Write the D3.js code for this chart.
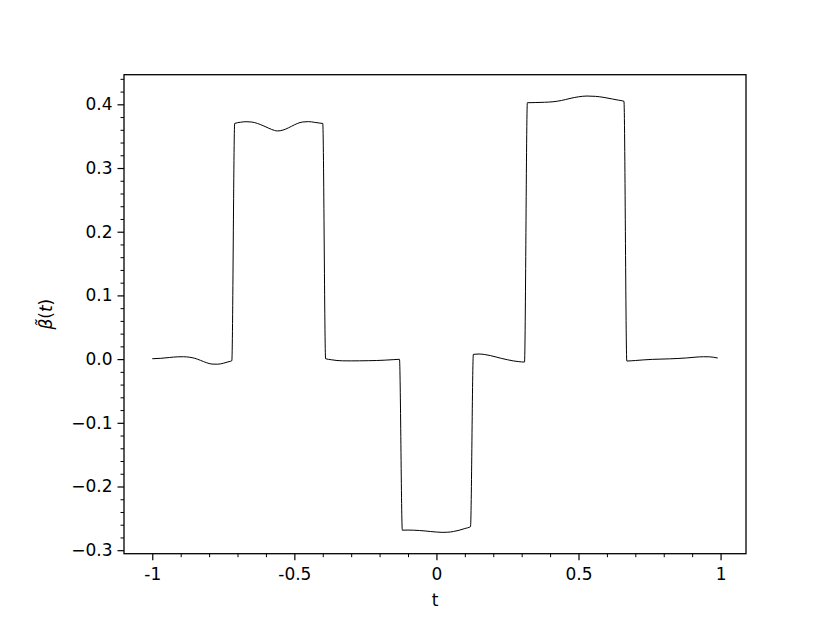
<!DOCTYPE html>
<html>
<head>
<meta charset="utf-8">
<script src="https://cdn.jsdelivr.net/npm/d3@7"></script>
<style>
  body { margin: 0; background: #fff; }
  svg { display: block; }
  text { font-family: "DejaVu Sans", sans-serif; }
</style>
</head>
<body>
<script>
const tValues = [
  -1.00, -0.97, -0.94, -0.91, -0.89, -0.87, -0.85, -0.83, -0.81, -0.79, -0.77, -0.75, -0.73, -0.72,
  -0.71, -0.69, -0.67, -0.65, -0.63, -0.61, -0.59, -0.57, -0.56, -0.55, -0.53, -0.51, -0.49, -0.47, -0.45, -0.43, -0.41, -0.40,
  -0.39, -0.37, -0.35, -0.33, -0.30, -0.27, -0.24, -0.21, -0.18, -0.15, -0.13,
  -0.12, -0.10, -0.08, -0.06, -0.04, -0.02, 0.00, 0.02, 0.04, 0.06, 0.08, 0.10, 0.12,
  0.13, 0.15, 0.17, 0.19, 0.21, 0.23, 0.25, 0.27, 0.29, 0.31,
  0.32, 0.35, 0.38, 0.41, 0.44, 0.47, 0.50, 0.53, 0.56, 0.59, 0.62, 0.64, 0.66,
  0.67, 0.70, 0.73, 0.76, 0.79, 0.82, 0.85, 0.88, 0.91, 0.94, 0.96, 0.99
];
const betaValues = [
  0.0006, 0.0012, 0.0025, 0.0036, 0.0037, 0.0030, 0.0012, -0.0020, -0.0055, -0.0078, -0.0080, -0.0065, -0.0040, -0.0025,
  0.3700, 0.3718, 0.3727, 0.3722, 0.3700, 0.3665, 0.3625, 0.3590, 0.3582, 0.3585, 0.3612, 0.3655, 0.3698, 0.3723, 0.3728, 0.3718, 0.3705, 0.3700,
  0.0006, -0.0010, -0.0022, -0.0027, -0.0028, -0.0027, -0.0025, -0.0022, -0.0016, -0.0008, -0.0003,
  -0.2686, -0.2684, -0.2686, -0.2691, -0.2698, -0.2707, -0.2715, -0.2720, -0.2718, -0.2706, -0.2687, -0.2660, -0.2630,
  0.0075, 0.0080, 0.0072, 0.0055, 0.0033, 0.0010, -0.0010, -0.0028, -0.0040, -0.0046,
  0.4025, 0.4028, 0.4032, 0.4040, 0.4060, 0.4092, 0.4118, 0.4130, 0.4125, 0.4108, 0.4083, 0.4066, 0.4047,
  -0.0030, -0.0022, -0.0012, -0.0004, 0.0000, 0.0004, 0.0010, 0.0018, 0.0030, 0.0037, 0.0036, 0.0017
];
const xTicks = [-1, -0.5, 0, 0.5, 1];
const xTickLabels = ["-1", "-0.5", "0", "0.5", "1"];
const yTicks = [-0.3, -0.2, -0.1, 0.0, 0.1, 0.2, 0.3, 0.4];
const xLabel = "t";

(function () {
const W = 830, H = 623;
const mLeft = 124, mRight = 746, mTop = 74.7, mBottom = 553.7;

const svg = d3.select("body").append("svg").attr("width", W).attr("height", H);

const x = d3.scaleLinear().domain([-1.0995, 1.0895]).range([mLeft, mRight]);
const y = d3.scaleLinear().domain([-0.3055, 0.4465]).range([mBottom, mTop]);

const data = tValues.map((t, i) => [t, betaValues[i]]);

svg.append("path")
  .datum(data)
  .attr("fill", "none")
  .attr("stroke", "#000")
  .attr("stroke-width", 1)
  .attr("d", d3.line().x(d => x(d[0])).y(d => y(d[1])).curve(d3.curveMonotoneX));

const xMinor = d3.range(-10, 11).map(k => k / 10).filter(v => !xTicks.some(t => Math.abs(t - v) < 1e-9));
const yMinor = d3.range(-15, 23).map(k => k / 50).filter(v => !yTicks.some(t => Math.abs(t - v) < 1e-9));

const fontSize = 17;

const xAxis = d3.axisBottom(x).tickValues(xTicks).tickSize(6.5).tickPadding(8)
  .tickFormat((d, i) => xTickLabels[i]);
const gx = svg.append("g").attr("transform", `translate(0,${mBottom})`).call(xAxis);
gx.select(".domain").remove();
gx.selectAll(".tick line").attr("stroke", "#000").attr("stroke-width", 1.2);
gx.selectAll(".tick text").attr("font-size", fontSize).attr("font-family", "DejaVu Sans").attr("fill", "#000");

const gxm = svg.append("g").attr("transform", `translate(0,${mBottom})`)
  .call(d3.axisBottom(x).tickValues(xMinor).tickSize(3.5).tickFormat(""));
gxm.select(".domain").remove();
gxm.selectAll(".tick line").attr("stroke", "#000").attr("stroke-width", 1);

const yAxis = d3.axisLeft(y).tickValues(yTicks).tickSize(6.5).tickPadding(5)
  .tickFormat(d => d3.format(".1f")(d).replace("-", "\u2212"));
const gy = svg.append("g").attr("transform", `translate(${mLeft},0)`).call(yAxis);
gy.select(".domain").remove();
gy.selectAll(".tick line").attr("stroke", "#000").attr("stroke-width", 1.2);
gy.selectAll(".tick text").attr("font-size", fontSize).attr("font-family", "DejaVu Sans").attr("fill", "#000");

const gym = svg.append("g").attr("transform", `translate(${mLeft},0)`)
  .call(d3.axisLeft(y).tickValues(yMinor).tickSize(3.5).tickFormat(""));
gym.select(".domain").remove();
gym.selectAll(".tick line").attr("stroke", "#000").attr("stroke-width", 1);

svg.append("rect")
  .attr("x", mLeft).attr("y", mTop)
  .attr("width", mRight - mLeft).attr("height", mBottom - mTop)
  .attr("fill", "none").attr("stroke", "#000").attr("stroke-width", 1.3);

svg.append("text")
  .attr("x", (mLeft + mRight) / 2).attr("y", 606)
  .attr("text-anchor", "middle")
  .attr("font-size", fontSize)
  .text(xLabel);

const yl = svg.append("text")
  .attr("transform", `translate(52,${(mTop + mBottom) / 2}) rotate(-90)`)
  .attr("text-anchor", "middle")
  .attr("font-size", fontSize);
yl.append("tspan").attr("font-style", "italic").text("\u03B2\u0303");
yl.append("tspan").text("(");
yl.append("tspan").attr("font-style", "italic").text("t");
yl.append("tspan").text(")");
})();
</script>
</body>
</html>
